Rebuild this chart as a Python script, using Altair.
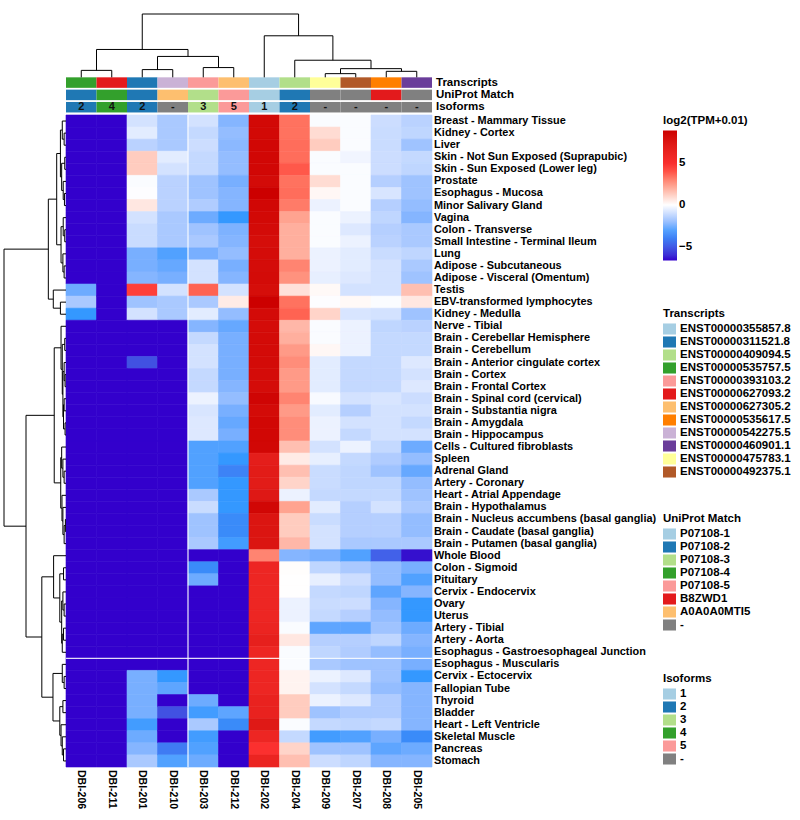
import altair as alt
import pandas as pd

ROWS = ["Breast - Mammary Tissue", "Kidney - Cortex", "Liver", "Skin - Not Sun Exposed (Suprapubic)",
        "Skin - Sun Exposed (Lower leg)", "Prostate", "Esophagus - Mucosa", "Minor Salivary Gland", "Vagina",
        "Colon - Transverse", "Small Intestine - Terminal Ileum", "Lung", "Adipose - Subcutaneous",
        "Adipose - Visceral (Omentum)", "Testis", "EBV-transformed lymphocytes", "Kidney - Medulla",
        "Nerve - Tibial", "Brain - Cerebellar Hemisphere", "Brain - Cerebellum", "Brain - Anterior cingulate cortex",
        "Brain - Cortex", "Brain - Frontal Cortex", "Brain - Spinal cord (cervical)", "Brain - Substantia nigra",
        "Brain - Amygdala", "Brain - Hippocampus", "Cells - Cultured fibroblasts", "Spleen", "Adrenal Gland",
        "Artery - Coronary", "Heart - Atrial Appendage", "Brain - Hypothalamus",
        "Brain - Nucleus accumbens (basal ganglia)", "Brain - Caudate (basal ganglia)",
        "Brain - Putamen (basal ganglia)", "Whole Blood", "Colon - Sigmoid", "Pituitary", "Cervix - Endocervix",
        "Ovary", "Uterus", "Artery - Tibial", "Artery - Aorta", "Esophagus - Gastroesophageal Junction",
        "Esophagus - Muscularis", "Cervix - Ectocervix", "Fallopian Tube", "Thyroid", "Bladder",
        "Heart - Left Ventricle", "Skeletal Muscle", "Pancreas", "Stomach"]

COLS = ["DBI-206", "DBI-211", "DBI-201", "DBI-210", "DBI-203", "DBI-212",
        "DBI-202", "DBI-204", "DBI-209", "DBI-207", "DBI-208", "DBI-205"]

DBI_206 = [-6.64, -6.64, -6.64, -6.64, -6.64, -6.64, -6.64, -6.64, -6.64, -6.64,
           -6.64, -6.64, -6.64, -6.64, -2.7, -1.7, -3.35, -6.64, -6.64, -6.64,
           -6.64, -6.64, -6.64, -6.64, -6.64, -6.64, -6.64, -6.64, -6.64, -6.64,
           -6.64, -6.64, -6.64, -6.64, -6.64, -6.64, -6.64, -6.64, -6.64, -6.64,
           -6.64, -6.64, -6.64, -6.64, -6.64, -6.64, -6.64, -6.64, -6.64, -6.64,
           -6.64, -6.64, -6.64, -6.64]
DBI_211 = [-6.64, -6.64, -6.64, -6.64, -6.64, -6.64, -6.64, -6.64, -6.64, -6.64,
           -6.64, -6.64, -6.64, -6.64, -6.64, -6.64, -6.64, -6.64, -6.64, -6.64,
           -6.64, -6.64, -6.64, -6.64, -6.64, -6.64, -6.64, -6.64, -6.64, -6.64,
           -6.64, -6.64, -6.64, -6.64, -6.64, -6.64, -6.64, -6.64, -6.64, -6.64,
           -6.64, -6.64, -6.64, -6.64, -6.64, -6.64, -6.64, -6.64, -6.64, -6.64,
           -6.64, -6.64, -6.64, -6.64]
DBI_201 = [-0.9, -0.6, -1.4, 1.3, 1.3, -0.1, -0.05, 0.6, -0.9, -1.1,
           -1.1, -2.55, -2.55, -2.35, 4.3, -1.9, -0.9, -6.64, -6.64, -6.64,
           -5.2, -6.64, -6.64, -6.64, -6.64, -6.64, -6.64, -6.64, -6.64, -6.64,
           -6.64, -6.64, -6.64, -6.64, -6.64, -6.64, -6.64, -6.64, -6.64, -6.64,
           -6.64, -6.64, -6.64, -6.64, -6.64, -6.64, -2.55, -2.55, -2.55, -2.55,
           -3.2, -2.7, -2.35, -1.7]
DBI_210 = [-1.7, -1.7, -1.7, -0.6, -0.9, -1.4, -1.4, -1.4, -1.7, -1.7,
           -1.7, -3.05, -2.8, -2.55, -0.9, -1.7, -1.7, -6.64, -6.64, -6.64,
           -6.64, -6.64, -6.64, -6.64, -6.64, -6.64, -6.64, -6.64, -6.64, -6.64,
           -6.64, -6.64, -6.64, -6.64, -6.64, -6.64, -6.64, -6.64, -6.64, -6.64,
           -6.64, -6.64, -6.64, -6.64, -6.64, -6.64, -3.35, -2.9, -6.64, -5.2,
           -6.64, -6.64, -4.1, -3.05]
DBI_203 = [-0.9, -1.2, -1.05, -1.2, -1.2, -1.9, -1.9, -1.6, -2.7, -1.9,
           -1.7, -2.55, -0.9, -0.9, 3.7, -1.7, -0.6, -2.35, -1.2, -0.9,
           -0.9, -1.2, -1.2, -0.4, -0.8, -0.7, -0.7, -3.05, -3.05, -3.05,
           -3.05, -1.7, -1.1, -1.9, -1.9, -1.7, -6.64, -3.7, -2.7, -6.64,
           -6.64, -6.64, -6.64, -6.64, -6.64, -6.64, -6.64, -6.64, -2.7, -3.2,
           -1.7, -3.2, -3.05, -2.7]
DBI_212 = [-2.35, -2.1, -2.25, -2.1, -2.1, -2.55, -2.35, -2.35, -3.35, -2.45,
           -2.35, -2.1, -2.55, -2.35, -0.9, 0.5, -2.1, -2.8, -2.55, -2.55,
           -2.55, -2.55, -2.35, -2.1, -2.55, -2.8, -2.55, -3.05, -3.35, -3.9,
           -3.35, -3.35, -3.35, -3.7, -3.7, -3.2, -6.64, -6.64, -6.64, -6.64,
           -6.64, -6.64, -6.64, -6.64, -6.64, -6.64, -6.64, -6.64, -6.64, -2.9,
           -3.7, -6.64, -6.64, -6.64]
DBI_202 = [8.4, 8.4, 8.5, 8.5, 8.5, 8.3, 8.9, 8.5, 8.4, 8.3,
           8.1, 8.2, 8.2, 8.3, 8.1, 8.9, 8.3, 8.2, 8.3, 8.3,
           8.3, 8.2, 8.2, 8.6, 8.3, 8.5, 8.5, 8.5, 6.8, 7.0,
           7.0, 7.3, 8.5, 7.6, 7.6, 7.6, 3.0, 6.0, 6.0, 6.0,
           6.0, 6.0, 6.2, 6.6, 6.0, 6.0, 6.0, 6.0, 6.4, 6.4,
           7.2, 6.0, 4.8, 6.2]
DBI_204 = [3.4, 3.4, 3.5, 3.5, 3.9, 3.4, 3.5, 3.2, 2.3, 2.0,
           2.0, 2.0, 3.0, 2.7, 0.75, 3.4, 3.7, 1.8, 2.0, 2.5,
           2.8, 2.5, 2.5, 3.0, 2.5, 2.8, 2.8, 1.6, 0.5, 1.6,
           1.1, -0.4, 2.3, 1.3, 1.3, 1.8, -2.35, 0.05, 0.02, 0.02,
           -0.4, -0.4, -0.1, 0.6, -0.1, -0.1, 0.3, 0.3, 1.3, 1.3,
           -0.1, -1.2, 1.1, 1.6]
DBI_209 = [-0.1, 0.9, 1.3, -0.1, -0.1, 0.9, 0.2, -0.4, -0.1, -0.1,
           -0.1, -0.4, -0.4, -0.5, 0.15, -0.05, 1.1, -0.1, -0.1, 0.2,
           -0.6, -0.6, -0.6, -0.15, -0.6, -0.4, -0.4, -0.9, -0.5, -1.1,
           -1.1, -1.2, -0.6, -1.1, -0.9, -0.9, -2.55, -1.3, -0.5, -1.2,
           -1.1, -1.2, -2.9, -1.5, -1.3, -1.7, -0.4, -0.9, -0.4, -1.9,
           -1.2, -3.2, -1.9, -1.05]
DBI_207 = [-0.1, -0.1, -0.1, -0.3, -0.1, -0.1, -0.1, -0.1, -0.4, -0.7,
           -0.4, -0.6, -0.6, -0.7, -0.9, 0.15, -0.8, -0.4, -0.4, -0.4,
           -1.2, -1.2, -1.2, -0.9, -1.5, -0.9, -1.2, -0.4, -1.2, -1.3,
           -1.3, -1.2, -1.5, -1.5, -1.5, -1.7, -3.05, -1.7, -1.05, -1.3,
           -1.05, -1.5, -2.9, -1.5, -1.6, -1.9, -0.7, -1.2, -0.7, -1.6,
           -1.3, -3.05, -1.9, -1.3]
DBI_208 = [-1.05, -1.1, -1.1, -1.05, -1.05, -1.5, -0.8, -1.5, -1.3, -1.5,
           -1.4, -1.1, -0.9, -0.9, -0.9, -0.1, -0.9, -1.3, -1.2, -1.2,
           -1.2, -1.2, -1.2, -0.8, -0.9, -0.9, -0.9, -1.2, -1.6, -1.9,
           -1.3, -1.2, -0.9, -1.5, -1.5, -1.7, -4.8, -2.1, -2.1, -2.9,
           -2.35, -2.1, -1.9, -1.3, -2.1, -1.9, -1.9, -2.1, -1.6, -1.6,
           -1.2, -2.55, -2.9, -2.35]
DBI_205 = [-1.4, -1.3, -1.9, -1.2, -1.3, -1.9, -1.9, -2.1, -2.35, -1.7,
           -1.7, -1.3, -1.7, -1.9, 1.6, 0.6, -1.9, -1.4, -1.2, -1.2,
           -0.7, -0.9, -0.7, -1.05, -0.9, -1.2, -0.9, -2.7, -2.1, -2.8,
           -2.1, -1.9, -1.7, -2.1, -2.1, -1.7, -6.5, -2.55, -3.05, -2.35,
           -3.35, -3.35, -2.7, -2.35, -2.55, -2.55, -3.35, -2.35, -2.35, -2.35,
           -2.35, -3.7, -2.7, -2.35]
SERIES = [DBI_206, DBI_211, DBI_201, DBI_210, DBI_203, DBI_212,
          DBI_202, DBI_204, DBI_209, DBI_207, DBI_208, DBI_205]

TRANSCRIPTS = ["ENST00000535757.5", "ENST00000627093.2", "ENST00000311521.8", "ENST00000542275.5",
               "ENST00000393103.2", "ENST00000627305.2", "ENST00000355857.8", "ENST00000409094.5",
               "ENST00000475783.1", "ENST00000492375.1", "ENST00000535617.5", "ENST00000460901.1"]
UNIPROT = ["P07108-2", "P07108-4", "P07108-2", "A0A0A0MTI5", "P07108-3", "P07108-5",
           "P07108-1", "P07108-2", "-", "-", "B8ZWD1", "-"]
ISOFORMS = ["2", "4", "2", "-", "3", "5", "1", "2", "-", "-", "-", "-"]

TRANSCRIPT_ORDER = ["ENST00000355857.8", "ENST00000311521.8", "ENST00000409094.5", "ENST00000535757.5",
                    "ENST00000393103.2", "ENST00000627093.2", "ENST00000627305.2", "ENST00000535617.5",
                    "ENST00000542275.5", "ENST00000460901.1", "ENST00000475783.1", "ENST00000492375.1"]
TRANSCRIPT_COLORS = ["#a6cee3", "#1f78b4", "#b2df8a", "#33a02c", "#fb9a99", "#e31a1c",
                     "#fdbf6f", "#ff7f00", "#cab2d6", "#6a3d9a", "#ffff99", "#b15928"]
UNIPROT_ORDER = ["P07108-1", "P07108-2", "P07108-3", "P07108-4", "P07108-5", "B8ZWD1", "A0A0A0MTI5", "-"]
UNIPROT_COLORS = ["#a6cee3", "#1f78b4", "#b2df8a", "#33a02c", "#fb9a99", "#e31a1c", "#fdbf6f", "#808080"]
ISOFORM_ORDER = ["1", "2", "3", "4", "5", "-"]
ISOFORM_COLORS = ["#a6cee3", "#1f78b4", "#b2df8a", "#33a02c", "#fb9a99", "#808080"]

HEAT_STOPS = [-6.64, -3.32, 0, 4.45, 8.9]
HEAT_COLORS = ["#3300CC", "#3399FF", "#FFFFFF", "#FF3333", "#CC0000"]

# dendrograms: [left, right, height] with height relative to the root (1.0); leaves are 1-based indices
ROW_TREE = [
    [[[[1, [2, 3, 0.03], 0.06], [[4, 5, 0.02], [6, [7, 8, 0.025], 0.045], 0.07], 0.09],
      [[9, [10, 11, 0.02], 0.045], [12, [13, 14, 0.03], 0.05], 0.08], 0.15],
     [15, [16, 17, 0.09], 0.205], 0.285],
    [[[18, [[19, 20, 0.02], [[21, [22, 23, 0.015], 0.03], [[24, 25, 0.03], [26, 27, 0.015], 0.04], 0.05], 0.06], 0.08],
      [[28, [29, [30, 31, 0.03], 0.05], 0.07], [32, [33, [[34, 35, 0.01], 36, 0.03], 0.05], 0.065], 0.085], 0.19],
     [[37, [[38, 39, 0.04], [[40, [41, 42, 0.03], 0.05], [[43, 44, 0.04], 45, 0.06], 0.07], 0.1], 0.2],
      [[46, [47, 48, 0.03], 0.06], [[49, 50, 0.05], [51, [52, [53, 54, 0.04], 0.06], 0.08], 0.1], 0.21], 0.39],
     0.645],
    1.0]
COL_TREE = [[[1, 2, 0.11], [[3, 4, 0.122], [5, 6, 0.154], 0.33], 0.44],
            [7, [8, [[9, 10, 0.058], [11, 12, 0.095], 0.137], 0.27], 0.656], 1.0]

# ---------------- layout (pixels) ----------------
CW = 30.5
CH = 652 / 54
XD = 62 / CW          # row dendrogram width in column units
YT = 101 / CH         # space above heatmap in row units
LEAF_Y = -3.12        # top of annotation tracks
TRACK_H = 0.87
TRACK_TOP = [-3.12, -2.10, -1.08]
NR, NC = len(ROWS), len(COLS)

xs = alt.Scale(domain=[-XD, NC], nice=False, zero=False)
ys = alt.Scale(domain=[-YT, NR], nice=False, zero=False, reverse=True)
FONT = "Liberation Sans"


def X(f="x"):
    return alt.X(f + ":Q", scale=xs, axis=None)


def Y(f="y"):
    return alt.Y(f + ":Q", scale=ys, axis=None)


def walk(node, segs):
    if isinstance(node, int):
        return node - 0.5, 0.0
    a, b, h = node
    pa, ha = walk(a, segs)
    pb, hb = walk(b, segs)
    segs.append((pa, pb, h, h))
    segs.append((pa, pa, h, ha))
    segs.append((pb, pb, h, hb))
    return (pa + pb) / 2, h


rs, cs = [], []
walk(ROW_TREE, rs)
walk(COL_TREE, cs)
dend = []
for p1, p2, h1, h2 in rs:
    dend.append(dict(x=-h1 * XD, x2=-h2 * XD, y=p1, y2=p2))
for p1, p2, h1, h2 in cs:
    dend.append(dict(x=p1, x2=p2, y=LEAF_Y - h1 * (YT + LEAF_Y), y2=LEAF_Y - h2 * (YT + LEAF_Y)))
dend_df = pd.DataFrame(dend)

heat_rows = []
for c, series in enumerate(SERIES):
    for r, v in enumerate(series):
        heat_rows.append(dict(x=c, x2=c + 1, y=r, y2=r + 1, value=v, tissue=ROWS[r], sample=COLS[c]))
heat_df = pd.DataFrame(heat_rows)

heat_scale = alt.Scale(domain=HEAT_STOPS, range=HEAT_COLORS, interpolate="lab")
heat = alt.Chart(heat_df).mark_rect(strokeWidth=0.6).encode(
    x=X(), x2="x2:Q", y=Y(), y2="y2:Q",
    color=alt.Color("value:Q", scale=heat_scale,
                    legend=alt.Legend(title="log2(TPM+0.01)", orient="none", legendX=659, legendY=101,
                                      direction="vertical", gradientLength=130, gradientThickness=14,
                                      values=[-5, 0, 5], gradientStrokeWidth=0, titlePadding=4)),
    stroke=alt.Stroke("value:Q", scale=heat_scale, legend=None),
)

split_df = pd.DataFrame([dict(x=4, x2=4, y=0, y2=NR), dict(x=0, x2=NC, y=45, y2=45)])
splits = alt.Chart(split_df).mark_rule(color="white", strokeWidth=1.3, opacity=0.85).encode(
    x=X(), x2="x2:Q", y=Y(), y2="y2:Q")

dendro = alt.Chart(dend_df).mark_rule(color="black", strokeWidth=1).encode(
    x=X(), x2="x2:Q", y=Y(), y2="y2:Q")

SYM = "M-1,-0.85H1V0.85H-1Z"


def track(k, values, order, colors, title, ly):
    df = pd.DataFrame([dict(x=c, x2=c + 1, y=TRACK_TOP[k], y2=TRACK_TOP[k] + TRACK_H, v=values[c])
                       for c in range(NC)])
    return alt.Chart(df).mark_rect().encode(
        x=X(), x2="x2:Q", y=Y(), y2="y2:Q",
        color=alt.Color("v:N", scale=alt.Scale(domain=order, range=colors),
                        legend=alt.Legend(title=title, orient="none", legendX=659, legendY=ly,
                                          symbolType=SYM, symbolSize=169, symbolStrokeWidth=0,
                                          rowPadding=0, titlePadding=3, labelOffset=4)))


t1 = track(0, TRANSCRIPTS, TRANSCRIPT_ORDER, TRANSCRIPT_COLORS, "Transcripts", 294)
t2 = track(1, UNIPROT, UNIPROT_ORDER, UNIPROT_COLORS, "UniProt Match", 499)
t3 = track(2, ISOFORMS, ISOFORM_ORDER, ISOFORM_COLORS, "Isoforms", 659)

iso_df = pd.DataFrame([dict(x=c + 0.5, y=TRACK_TOP[2] + TRACK_H / 2, t=ISOFORMS[c]) for c in range(NC)])
iso_text = alt.Chart(iso_df).mark_text(font=FONT, fontSize=11, fontWeight="bold", color="#111",
                                       baseline="middle", align="center").encode(x=X(), y=Y(), text="t:N")

ann_df = pd.DataFrame([dict(x=NC, y=TRACK_TOP[k] + TRACK_H / 2, t=n)
                       for k, n in enumerate(["Transcripts", "UniProt Match", "Isoforms"])])
ann_text = alt.Chart(ann_df).mark_text(font=FONT, fontSize=11.5, fontWeight="bold", color="black",
                                       align="left", baseline="middle", dx=4).encode(x=X(), y=Y(), text="t:N")

row_df = pd.DataFrame([dict(x=NC, y=r + 0.5, t=n) for r, n in enumerate(ROWS)])
row_text = alt.Chart(row_df).mark_text(font=FONT, fontSize=10.9, fontWeight="bold", color="black",
                                       align="left", baseline="middle", dx=2).encode(x=X(), y=Y(), text="t:N")

col_df = pd.DataFrame([dict(x=c + 0.5, y=NR + 3 / CH, t=n) for c, n in enumerate(COLS)])
col_text = alt.Chart(col_df).mark_text(font=FONT, fontSize=10.5, fontWeight="bold", color="black",
                                       align="left", baseline="middle", angle=90).encode(x=X(), y=Y(), text="t:N")

chart = alt.layer(heat, splits, t1, t2, t3, iso_text, ann_text, row_text, col_text, dendro).resolve_scale(
    color="independent"
).properties(
    width=428, height=753,
    padding={"left": 4, "top": 14, "right": 368, "bottom": 53},
    autosize=alt.AutoSizeParams(type="none"),
).configure_view(stroke=None).configure_legend(
    titleFont=FONT, labelFont=FONT, titleFontSize=11.5, labelFontSize=11.5,
    titleFontWeight="bold", labelFontWeight="bold", titleColor="black", labelColor="black",
    padding=0, labelLimit=0,
)

chart.save("out.html", embed_options={"renderer": "svg", "actions": False})
